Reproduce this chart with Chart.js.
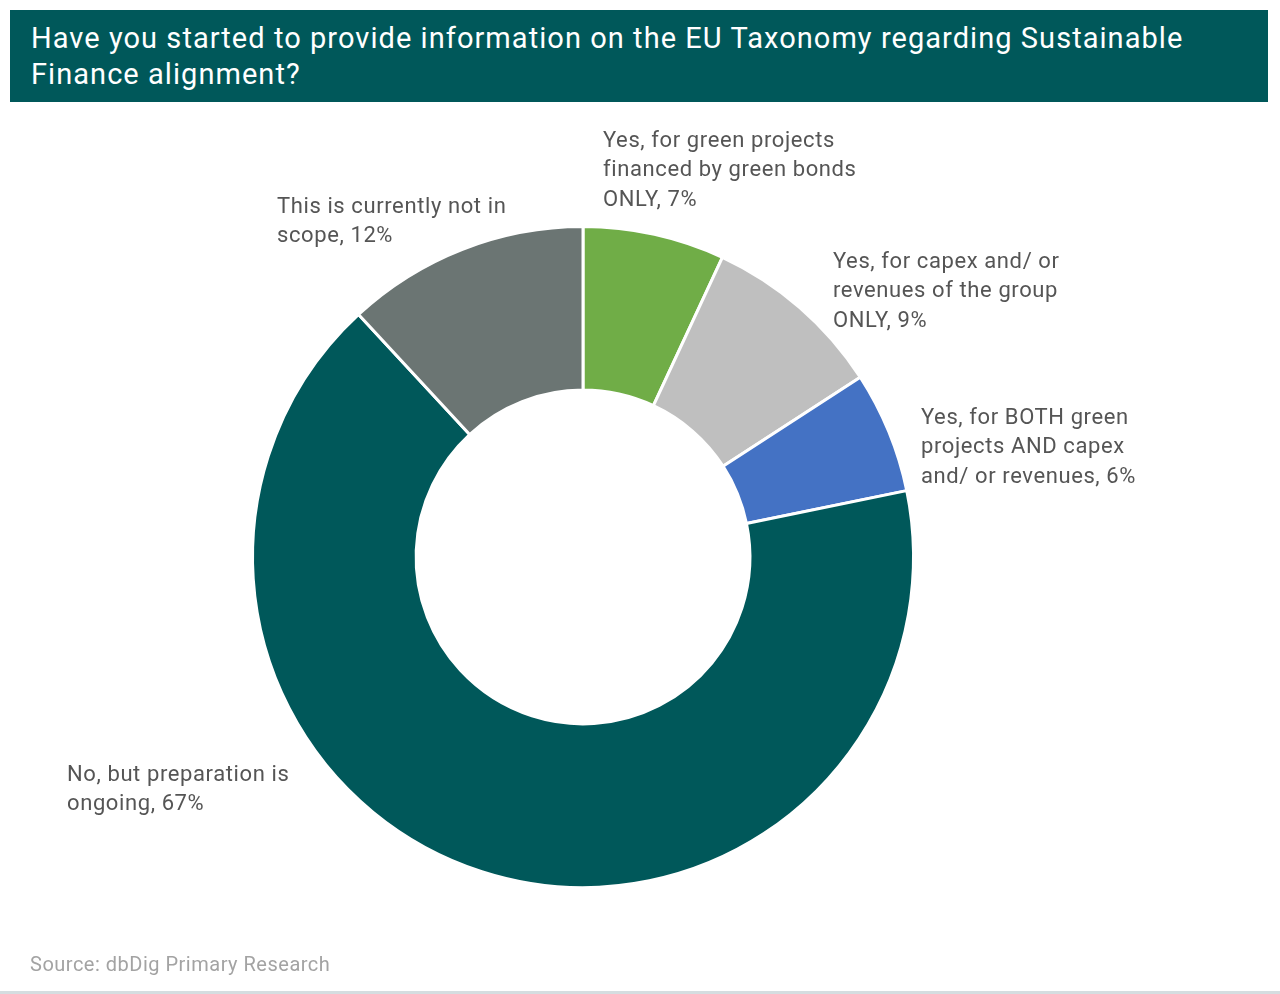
<!DOCTYPE html>
<html>
<head>
<meta charset="utf-8">
<script src="https://cdn.jsdelivr.net/npm/chart.js@4.4.1/dist/chart.umd.min.js"></script>
<style>
  html, body { margin:0; padding:0; background:#fff; }
  body { width:1280px; height:994px; position:relative; overflow:hidden; font-family: Roboto, "Liberation Sans", sans-serif; }
  #title { position:absolute; left:10px; top:10px; width:1258px; height:92px; background:#00585A; color:#fff;
           font-size:29px; line-height:36px; box-sizing:border-box; padding:10px 0 0 21px; letter-spacing:1.05px; }
  #source { position:absolute; left:30px; top:952px; color:#a3a3a3; font-size:20px; letter-spacing:0.5px; }
  #bottomline { position:absolute; left:0; top:991px; width:1280px; height:3px; background:#d5dde0; }
  #wrap { position:absolute; left:0; top:0; width:1280px; height:994px; }
</style>
</head>
<body>
<div id="wrap"><canvas id="c"></canvas></div>
<div id="title">Have you started to provide information on the EU Taxonomy regarding Sustainable<br>Finance alignment?</div>
<div id="source">Source: dbDig Primary Research</div>
<div id="bottomline"></div>
<script>
const categories = [
  "Yes, for green projects financed by green bonds ONLY",
  "Yes, for capex and/ or revenues of the group ONLY",
  "Yes, for BOTH green projects AND capex and/ or revenues",
  "No, but preparation is ongoing",
  "This is currently not in scope"
];
const values = [7, 9, 6, 67, 12];
const labelLines = [
  ["Yes, for green projects", "financed by green bonds", "ONLY, 7%"],
  ["Yes, for capex and/ or", "revenues of the group", "ONLY, 9%"],
  ["Yes, for BOTH green", "projects AND capex", "and/ or revenues, 6%"],
  ["No, but preparation is", "ongoing, 67%"],
  ["This is currently not in", "scope, 12%"]
];
const colors = ["#70AD47", "#BFBFBF", "#4472C4", "#00585A", "#6B7573"];

// label offsets (px) relative to the doughnut centre: first-line left / middle
const labelOffsets = [[20, -416], [250, -295], [338, -139], [-516, 218], [-306, -350]];

const labelPlugin = {
  id: 'outerLabels',
  afterDatasetsDraw(chart) {
    const ctx = chart.ctx;
    const meta = chart.getDatasetMeta(0);
    const arc = meta.data[0];
    const cx = arc.x, cy = arc.y;
    ctx.save();
    ctx.font = '22px Roboto, "Liberation Sans", sans-serif';
    if ('letterSpacing' in ctx) ctx.letterSpacing = '0.6px';
    ctx.fillStyle = '#555555';
    ctx.textAlign = 'left';
    ctx.textBaseline = 'middle';
    labelLines.forEach((lines, i) => {
      const [dx, dy] = labelOffsets[i];
      lines.forEach((t, j) => ctx.fillText(t, cx + dx, cy + dy + j * 29.5));
    });
    ctx.restore();
  }
};

new Chart(document.getElementById('c'), {
  type: 'doughnut',
  data: {
    labels: categories,
    datasets: [{
      data: values,
      backgroundColor: colors,
      borderColor: '#ffffff',
      borderWidth: 3,
      hoverOffset: 0
    }]
  },
  options: {
    responsive: true,
    maintainAspectRatio: false,
    animation: false,
    cutout: '50.5%',
    layout: { padding: { left: 251, right: 365, top: 225, bottom: 105 } },
    plugins: { legend: { display: false }, tooltip: { enabled: false } }
  },
  plugins: [labelPlugin]
});
</script>
</body>
</html>
